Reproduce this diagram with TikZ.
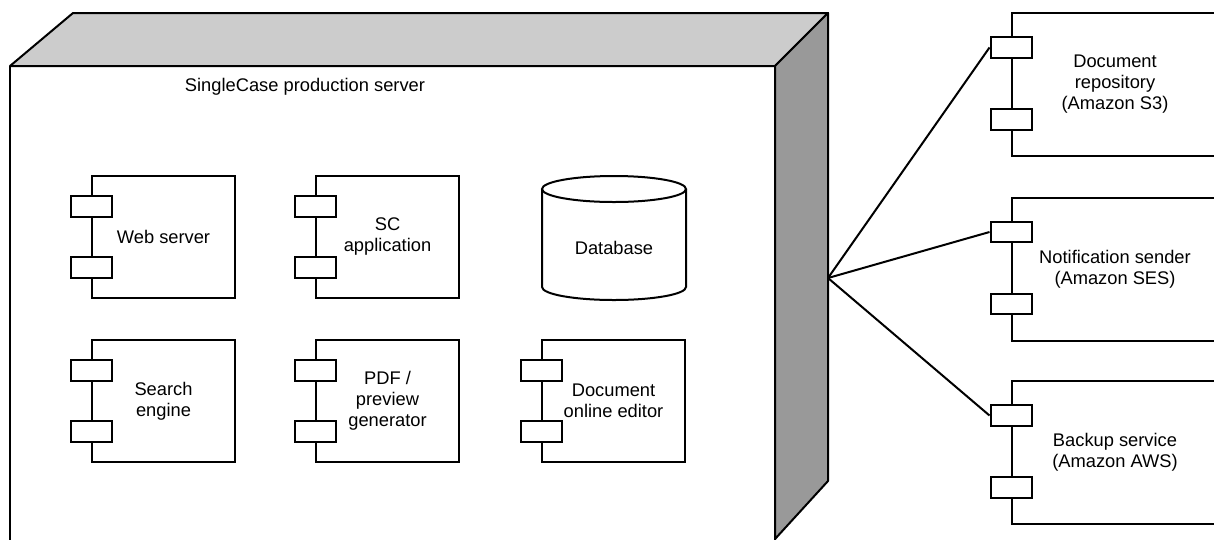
\documentclass[tikz,border=0pt]{standalone}
\usepackage{fontspec}
\setmainfont{Liberation Sans}
\usetikzlibrary{calc}
\definecolor{topgray}{HTML}{CCCCCC}
\definecolor{sidegray}{HTML}{999999}
\begin{document}
\begin{tikzpicture}[x=1pt,y=-1pt,
  every node/.style={font=\fontsize{18.3}{21}\selectfont, align=center},
  lw/.style={line width=2pt},
  comp/.style={draw, lw, minimum width=143pt, minimum height=122pt, inner sep=0pt},
  ext/.style={comp, minimum width=206pt, minimum height=143pt},
  port/.style={draw, lw, fill=white, minimum width=41pt, minimum height=20.5pt, inner sep=0pt},
  link/.style={lw}]
\useasboundingbox (0,0) rectangle (1214,539);
\clip (0,0) rectangle (1214,539);
% server node (3D box)
\draw[lw, line join=round, fill=white] (10,66) -- (775,66) -- (775,560) (10,560) -- (10,66);
\draw[lw, line join=round, fill=topgray] (10,66) -- (73,13) -- (828,13) -- (775,66) -- cycle;
\draw[lw, line join=round, fill=sidegray] (775,66) -- (828,13) -- (828,481) -- (775,539) -- (775,560) -- (775,66);
\node (srv) at (305,87) {SingleCase production server};
\coordinate (hub) at (828,278);
% inner components
\node[comp] (ws) at (163.5,237) {Web server};
\node[comp] (sc) at (387.5,237) {SC\\application};
\node[comp] (se) at (163.5,401) {Search\\engine};
\node[comp] (pdf) at (387.5,401) {PDF /\\preview\\generator};
\node[comp] (doe) at (613.5,401) {Document\\online editor};
\foreach \c in {ws,sc,se,pdf,doe}{
  \node[port] (\c-p1) at ($(\c.north west)+(0,31.5)$) {};
  \node[port] (\c-p2) at ($(\c.north west)+(0,92.5)$) {};
}
% database
\node (db) at (614,248) {Database};
\draw[lw] (542,189) -- (542,287) arc[start angle=180, end angle=360, x radius=72pt, y radius=13pt] -- (686,189);
\draw[lw, fill=white] (614,189) ellipse [x radius=72pt, y radius=13pt];
% external components
\node[ext] (dr) at (1115,84.5) {Document\\repository\\(Amazon S3)};
\node[ext] (ns) at (1115,269) {Notification sender\\(Amazon SES)};
\node[ext] (bs) at (1115,452.5) {Backup service\\(Amazon AWS)};
\foreach \c in {dr,ns,bs}{
  \node[port] (\c-p1) at ($(\c.north west)+(0,35.5)$) {};
  \node[port] (\c-p2) at ($(\c.north west)+(0,107.5)$) {};
}
% connectors
\draw[link] (hub) -- (dr-p1.west);
\draw[link] (hub) -- (ns-p1.west);
\draw[link] (hub) -- (bs-p1.west);
\end{tikzpicture}
\end{document}
